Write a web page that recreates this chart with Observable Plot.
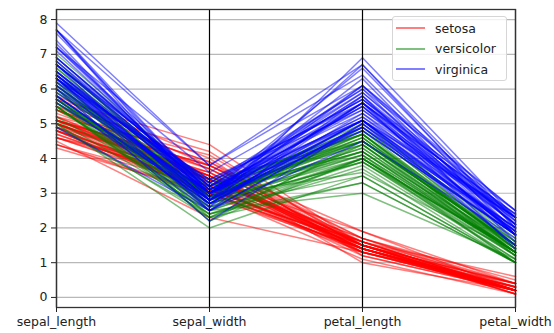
<!DOCTYPE html>
<html>
<head>
<meta charset="utf-8">
<script src="https://cdn.jsdelivr.net/npm/d3@7"></script>
<script src="https://cdn.jsdelivr.net/npm/@observablehq/plot@0.6"></script>
<style>
  html, body { margin: 0; padding: 0; background: #fff; }
  #wrap { position: relative; width: 554px; height: 333px; font-family: "DejaVu Sans", sans-serif; }
  #legend { position: absolute; left: 392px; top: 16px; width: 115px; height: 65px;
    background: rgba(255,255,255,0.8); border: 1px solid #d6d6d6; border-radius: 3px; box-sizing: border-box; }
  .item { position: absolute; left: 3px; height: 16px; display: flex; align-items: center; font-size: 12.5px; color: #222; }
  .item span.sw { display: inline-block; width: 29px; height: 0; border-top: 2px solid; margin-right: 10px; }
</style>
</head>
<body>
<div id="wrap"><div id="chart"></div><div id="legend"></div></div>
<script>
const dims = ["sepal_length", "sepal_width", "petal_length", "petal_width"];
const speciesNames = ["setosa", "versicolor", "virginica"];
const speciesColors = ["rgb(255,0,0)", "rgb(0,128,0)", "rgb(0,0,255)"];
const yTicks = [0, 1, 2, 3, 4, 5, 6, 7, 8];

const sepal_length = [
5.1,4.9,4.7,4.6,5.0,5.4,4.6,5.0,4.4,4.9,5.4,4.8,4.8,4.3,5.8,5.7,5.4,5.1,5.7,5.1,5.4,5.1,4.6,5.1,4.8,5.0,5.0,5.2,5.2,4.7,4.8,5.4,5.2,5.5,4.9,5.0,5.5,4.9,4.4,5.1,5.0,4.5,4.4,5.0,5.1,4.8,5.1,4.6,5.3,5.0,
7.0,6.4,6.9,5.5,6.5,5.7,6.3,4.9,6.6,5.2,5.0,5.9,6.0,6.1,5.6,6.7,5.6,5.8,6.2,5.6,5.9,6.1,6.3,6.1,6.4,6.6,6.8,6.7,6.0,5.7,5.5,5.5,5.8,6.0,5.4,6.0,6.7,6.3,5.6,5.5,5.5,6.1,5.8,5.0,5.6,5.7,5.7,6.2,5.1,5.7,
6.3,5.8,7.1,6.3,6.5,7.6,4.9,7.3,6.7,7.2,6.5,6.4,6.8,5.7,5.8,6.4,6.5,7.7,7.7,6.0,6.9,5.6,7.7,6.3,6.7,7.2,6.2,6.1,6.4,7.2,7.4,7.9,6.4,6.3,6.1,7.7,6.3,6.4,6.0,6.9,6.7,6.9,5.8,6.8,6.7,6.7,6.3,6.5,6.2,5.9];
const sepal_width = [
3.5,3.0,3.2,3.1,3.6,3.9,3.4,3.4,2.9,3.1,3.7,3.4,3.0,3.0,4.0,4.4,3.9,3.5,3.8,3.8,3.4,3.7,3.6,3.3,3.4,3.0,3.4,3.5,3.4,3.2,3.1,3.4,4.1,4.2,3.1,3.2,3.5,3.6,3.0,3.4,3.5,2.3,3.2,3.5,3.8,3.0,3.8,3.2,3.7,3.3,
3.2,3.2,3.1,2.3,2.8,2.8,3.3,2.4,2.9,2.7,2.0,3.0,2.2,2.9,2.9,3.1,3.0,2.7,2.2,2.5,3.2,2.8,2.5,2.8,2.9,3.0,2.8,3.0,2.9,2.6,2.4,2.4,2.7,2.7,3.0,3.4,3.1,2.3,3.0,2.5,2.6,3.0,2.6,2.3,2.7,3.0,2.9,2.9,2.5,2.8,
3.3,2.7,3.0,2.9,3.0,3.0,2.5,2.9,2.5,3.6,3.2,2.7,3.0,2.5,2.8,3.2,3.0,3.8,2.6,2.2,3.2,2.8,2.8,2.7,3.3,3.2,2.8,3.0,2.8,3.0,2.8,3.8,2.8,2.8,2.6,3.0,3.4,3.1,3.0,3.1,3.1,3.1,2.7,3.2,3.3,3.0,2.5,3.0,3.4,3.0];
const petal_length = [
1.4,1.4,1.3,1.5,1.4,1.7,1.4,1.5,1.4,1.5,1.5,1.6,1.4,1.1,1.2,1.5,1.3,1.4,1.7,1.5,1.7,1.5,1.0,1.7,1.9,1.6,1.6,1.5,1.4,1.6,1.6,1.5,1.5,1.4,1.5,1.2,1.3,1.4,1.3,1.5,1.3,1.3,1.3,1.6,1.9,1.4,1.6,1.4,1.5,1.4,
4.7,4.5,4.9,4.0,4.6,4.5,4.7,3.3,4.6,3.9,3.5,4.2,4.0,4.7,3.6,4.4,4.5,4.1,4.5,3.9,4.8,4.0,4.9,4.7,4.3,4.4,4.8,5.0,4.5,3.5,3.8,3.7,3.9,5.1,4.5,4.5,4.7,4.4,4.1,4.0,4.4,4.6,4.0,3.3,4.2,4.2,4.2,4.3,3.0,4.1,
6.0,5.1,5.9,5.6,5.8,6.6,4.5,6.3,5.8,6.1,5.1,5.3,5.5,5.0,5.1,5.3,5.5,6.7,6.9,5.0,5.7,4.9,6.7,4.9,5.7,6.0,4.8,4.9,5.6,5.8,6.1,6.4,5.6,5.1,5.6,6.1,5.6,5.5,4.8,5.4,5.6,5.1,5.1,5.9,5.7,5.2,5.0,5.2,5.4,5.1];
const petal_width = [
0.2,0.2,0.2,0.2,0.2,0.4,0.3,0.2,0.2,0.1,0.2,0.2,0.1,0.1,0.2,0.4,0.4,0.3,0.3,0.3,0.2,0.4,0.2,0.5,0.2,0.2,0.4,0.2,0.2,0.2,0.2,0.4,0.1,0.2,0.2,0.2,0.2,0.1,0.2,0.2,0.3,0.3,0.2,0.6,0.4,0.3,0.2,0.2,0.2,0.2,
1.4,1.5,1.5,1.3,1.5,1.3,1.6,1.0,1.3,1.4,1.0,1.5,1.0,1.4,1.3,1.4,1.5,1.0,1.5,1.1,1.8,1.3,1.5,1.2,1.3,1.4,1.4,1.7,1.5,1.0,1.1,1.0,1.2,1.6,1.5,1.6,1.5,1.3,1.3,1.3,1.2,1.4,1.2,1.0,1.3,1.2,1.3,1.3,1.1,1.3,
2.5,1.9,2.1,1.8,2.2,2.1,1.7,1.8,1.8,2.5,2.0,1.9,2.1,2.0,2.4,2.3,1.8,2.2,2.3,1.5,2.3,2.0,2.0,1.8,2.1,1.8,1.8,1.8,2.1,1.6,1.9,2.0,2.2,1.5,1.4,2.3,2.4,1.8,1.8,2.1,2.4,2.3,1.9,2.3,2.5,2.3,1.9,2.0,2.3,1.8];
const species = d3.range(150).map(i => speciesNames[Math.floor(i / 50)]);

const columns = [sepal_length, sepal_width, petal_length, petal_width];
const long = [];
for (let i = 0; i < 150; i++) {
  for (let j = 0; j < dims.length; j++) {
    long.push({id: i, species: species[i], x: j, y: columns[j][i]});
  }
}

const chart = Plot.plot({
  width: 554,
  height: 333,
  marginLeft: 56,
  marginRight: 39,
  marginTop: 9,
  marginBottom: 26,
  style: {fontFamily: "DejaVu Sans, sans-serif", fontSize: "12.5px", color: "#222", background: "#fff"},
  x: {domain: [0, dims.length - 1], axis: null},
  y: {domain: [-0.29, 8.29], axis: null},
  color: {domain: speciesNames, range: speciesColors},
  marks: [
    Plot.ruleY(yTicks, {stroke: "#b8b8b8", strokeWidth: 1.2}),
    Plot.line(long, {x: "x", y: "y", z: "id", stroke: "species", strokeOpacity: 0.5, strokeWidth: 1.5}),
    Plot.ruleX(d3.range(dims.length), {stroke: "black", strokeWidth: 1.2}),
    Plot.frame({stroke: "#333", strokeWidth: 1.3}),
    Plot.axisY({ticks: yTicks, tickSize: 5, tickPadding: 4, label: null, fontSize: 12.5}),
    Plot.axisX({ticks: d3.range(dims.length), tickFormat: i => dims[i], tickSize: 5, tickPadding: 5, label: null, fontSize: 12.5})
  ]
});
document.getElementById("chart").appendChild(chart);

const legend = document.getElementById("legend");
speciesNames.forEach((name, k) => {
  const item = document.createElement("div");
  item.className = "item";
  item.style.top = (3 + k * 20.5) + "px";
  const sw = document.createElement("span");
  sw.className = "sw";
  sw.style.borderColor = speciesColors[k];
  sw.style.opacity = 0.5;
  item.appendChild(sw);
  item.appendChild(document.createTextNode(name));
  legend.appendChild(item);
});
</script>
</body>
</html>
